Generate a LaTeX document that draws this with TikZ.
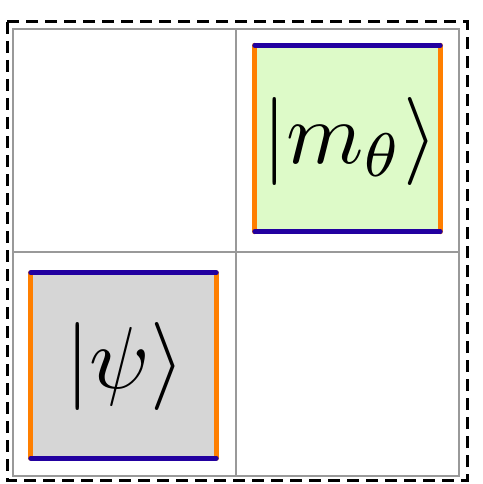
\documentclass[tikz,border=0pt]{standalone}
\usepackage{graphicx}
\newcommand{\bigstate}[1]{\scalebox{8.8}{#1}}
\begin{document}
\begin{tikzpicture}[x=1pt,y=-1pt,
  statebox/.style={rectangle, inner sep=0pt, draw=none},
  gridline/.style={draw=gray!80, line width=1.4pt},
  orangeedge/.style={line width=5pt, line cap=round},
  blueedge/.style={line width=5pt, line cap=round},
  outer/.style={draw=black, line width=3pt, dash pattern=on 12pt off 7pt}]
\definecolor{greenfill}{HTML}{DDFAC8}
\definecolor{grayfill}{HTML}{D6D6D6}
\definecolor{edgeblue}{HTML}{2200A0}
\definecolor{edgeorange}{HTML}{FF7F00}
\useasboundingbox (0,0) rectangle (482,484);
% grid
\draw[gridline] (13,29) rectangle (459,476);
\draw[gridline] (236,29) -- (236,476);
\draw[gridline] (13,252) -- (459,252);
% state boxes
\node[statebox, fill=greenfill, minimum width=185pt, minimum height=186pt] (m) at (347.5,138.5) {};
\node[statebox, fill=grayfill, minimum width=185pt, minimum height=185pt] (psi) at (123.5,365.5) {};
\node (mtext) at (350,141) {\bigstate{$|m_\theta\rangle$}};
\node (psitext) at (125,366) {\bigstate{$|\psi\rangle$}};
% edges
\foreach \n in {m,psi}{
  \draw[orangeedge, draw=edgeorange] (\n.north west) -- (\n.south west);
  \draw[orangeedge, draw=edgeorange] (\n.north east) -- (\n.south east);
  \draw[blueedge, draw=edgeblue] (\n.north west) -- (\n.north east);
  \draw[blueedge, draw=edgeblue] (\n.south west) -- (\n.south east);
}
% outer dashed frame
\draw[outer] (7,22) rectangle (467,480);
\end{tikzpicture}
\end{document}
